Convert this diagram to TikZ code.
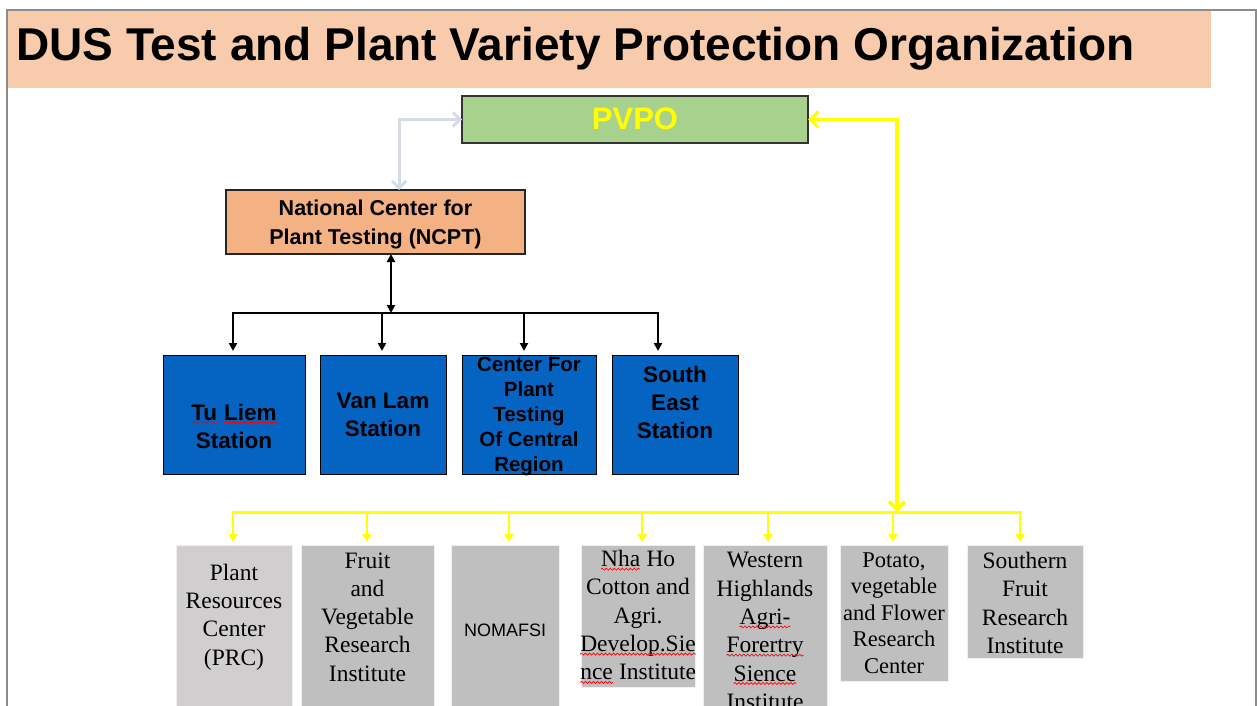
\documentclass[tikz,border=0pt]{standalone}
\usepackage{fontspec}
\setmainfont{Liberation Serif}
\newfontfamily\arialf{Liberation Sans}
\usetikzlibrary{arrows.meta,decorations.pathmorphing}
\newcommand\rwave[1]{\tikz[baseline=(w.base),x=1cm,y=1cm]{\node[inner sep=0pt,outer sep=0pt,align=left](w){#1};\draw[red,line width=0.7pt,decorate,decoration={snake,segment length=4pt,amplitude=1pt}] ([yshift=-2.5pt]w.base west) -- ([yshift=-2.5pt]w.base east);}}
\definecolor{banner}{HTML}{F8CBAD}
\definecolor{pvpog}{HTML}{A9D18E}
\definecolor{ncpto}{HTML}{F4B183}
\definecolor{stblue}{HTML}{0563C1}
\definecolor{grayb}{HTML}{BFBFBF}
\definecolor{grayl}{HTML}{D0CECE}
\definecolor{glink}{HTML}{D6DCE5}
\definecolor{ylw}{HTML}{FFFF00}
\definecolor{frame}{HTML}{8C8C8C}
\begin{document}
\begin{tikzpicture}[x=1pt,y=-1pt,
  box/.style={rectangle,inner sep=0pt,outer sep=0pt},
  stbox/.style={box,fill=stblue,draw=black,line width=1pt},
  botbox/.style={box,fill=grayb,draw=white!88!gray,line width=0.8pt},
  sttext/.style={align=center,font=\arialf\bfseries\fontsize{22.5}{28}\selectfont},
  bottext/.style={align=center,font=\fontsize{23.5}{28.3}\selectfont},
  blk/.style={draw=black,line width=2.4pt},
  ymain/.style={draw=ylw,line width=3.4pt},
  ydrop/.style={draw=ylw,line width=2.2pt,-{Triangle[length=8pt,width=9pt]}},
  kdrop/.style={draw=black,line width=2.2pt,-{Triangle[length=8pt,width=8pt]}},
]
\useasboundingbox (0,0) rectangle (1257,706);
% frame
\draw[frame,line width=2pt] (7,706) -- (7,10) -- (1256,10) -- (1256,706);
% banner
\fill[banner] (8,11) rectangle (1211,88);
\node[anchor=base west,inner sep=0pt,font=\arialf\bfseries\fontsize{46}{50}\selectfont] (title) at (16,61) {DUS Test and Plant Variety Protection Organization};

% PVPO
\node[box,fill=pvpog,draw=black!80,line width=1.2pt,minimum width=346pt,minimum height=47pt] (pvpo) at (635,119.5) {};
\node[font=\arialf\bfseries\fontsize{31}{34}\selectfont,text=ylw] (pvpot) at (635,119) {PVPO};

% NCPT
\node[box,fill=ncpto,draw=black!85,line width=1.2pt,minimum width=299pt,minimum height=64pt] (ncpt) at (375.5,222) {};
\node[align=center,font=\arialf\bfseries\fontsize{21.5}{29}\selectfont] (ncptt) at (375.5,224) {National Center for\\Plant Testing (NCPT)};

% stations
\node[stbox,minimum width=142pt,minimum height=119pt] (tl) at (234,414.5) {};
\node[stbox,minimum width=126pt,minimum height=119pt] (vl) at (383,414.5) {};
\node[stbox,minimum width=134pt,minimum height=119pt] (cf) at (529,414.5) {};
\node[stbox,minimum width=126pt,minimum height=119pt] (se) at (675,414.5) {};
\node[sttext] (tlt) at (234,426) {\rwave{Tu} \rwave{Liem}\\Station};
\node[sttext] (vlt) at (383,415) {Van Lam\\Station};
\node[sttext,font=\arialf\bfseries\fontsize{20.5}{25}\selectfont] (cft) at (529,417) {Center For\\Plant\\Testing\\Of Central\\Region};
\node[sttext] (set) at (675,402) {South\\East\\Station};

% gray link PVPO <-> NCPT
\draw[glink,line width=3pt,{Straight Barb[length=7pt,width=14pt]}-{Straight Barb[length=7pt,width=14pt]}]
  ([xshift=23.5pt]ncpt.north) |- (pvpo.west);

% black links
\coordinate (kb) at (391,313);
\draw[blk,{Triangle[length=8pt,width=8pt]}-{Triangle[length=8pt,width=8pt]}] ([xshift=15.5pt]ncpt.south) -- (kb);
\coordinate (k1) at (233,313);
\coordinate (k2) at (382,313);
\coordinate (k3) at (524,313);
\coordinate (k4) at (658,313);
\draw[blk] ([xshift=-1.2pt]k1) -- ([xshift=1.2pt]k4);
\draw[kdrop,shorten >=4pt] (k1) -- (k1 |- tl.north);
\draw[kdrop,shorten >=4pt] (k2) -- (k2 |- vl.north);
\draw[kdrop,shorten >=4pt] (k3) -- (k3 |- cf.north);
\draw[kdrop,shorten >=4pt] (k4) -- (k4 |- se.north);

% bottom boxes
\node[botbox,fill=grayl,minimum width=116pt,minimum height=161pt] (prc) at (234,625.5) {};
\node[botbox,minimum width=133pt,minimum height=161pt] (fv) at (367.5,625.5) {};
\node[botbox,minimum width=108pt,minimum height=161pt] (nom) at (505,625.5) {};
\node[botbox,minimum width=114pt,minimum height=142pt] (nha) at (638,616) {};
\node[botbox,minimum width=124pt,minimum height=161pt] (wh) at (765,625.5) {};
\node[botbox,minimum width=108pt,minimum height=136pt] (pot) at (894,613) {};
\node[botbox,minimum width=116pt,minimum height=113pt] (sf) at (1025,601.5) {};

\node[bottext] (prct) at (234,617) {Plant\\Resources\\Center\\(PRC)};
\node[bottext] (fvt) at (367.5,617) {Fruit\\and\\Vegetable\\Research\\Institute};
\node[font=\arialf\fontsize{18}{22}\selectfont] (nomt) at (505,630) {NOMAFSI};
\node[bottext] (nhat) at (638,617) {\rwave{Nha} Ho\\Cotton and\\Agri.\\\rwave{Develop.Sie}\\\rwave{nce} Institute};
\node[bottext] (wht) at (765,631) {Western\\Highlands\\\rwave{Agri-}\\\rwave{Forertry}\\\rwave{Sience}\\Institute};
\node[bottext,font=\fontsize{22.5}{26.5}\selectfont] (pott) at (894,613) {Potato,\\vegetable\\and Flower\\Research\\Center};
\node[bottext] (sft) at (1025,603) {Southern\\Fruit\\Research\\Institute};

% yellow links
\coordinate (yb) at (897,512);
\draw[ymain,{Straight Barb[length=8pt,width=16pt]}-{Straight Barb[length=8pt,width=16pt]}] (pvpo.east) -| (yb);
\coordinate (y1) at (233,512);
\coordinate (y2) at (367,512);
\coordinate (y3) at (509,512);
\coordinate (y4) at (642,512);
\coordinate (y5) at (768,512);
\coordinate (y6) at (893,512);
\coordinate (y7) at (1020,512);
\draw[ymain,line width=3pt] ([xshift=-1.5pt]y1) -- ([xshift=1.5pt]y7);
\draw[ydrop,shorten >=3pt] (y1) -- (y1 |- prc.north);
\draw[ydrop,shorten >=3pt] (y2) -- (y2 |- fv.north);
\draw[ydrop,shorten >=3pt] (y3) -- (y3 |- nom.north);
\draw[ydrop,shorten >=3pt] (y4) -- (y4 |- nha.north);
\draw[ydrop,shorten >=3pt] (y5) -- (y5 |- wh.north);
\draw[ydrop,shorten >=3pt] (y6) -- (y6 |- pot.north);
\draw[ydrop,shorten >=3pt] (y7) -- (y7 |- sf.north);
\end{tikzpicture}
\end{document}
